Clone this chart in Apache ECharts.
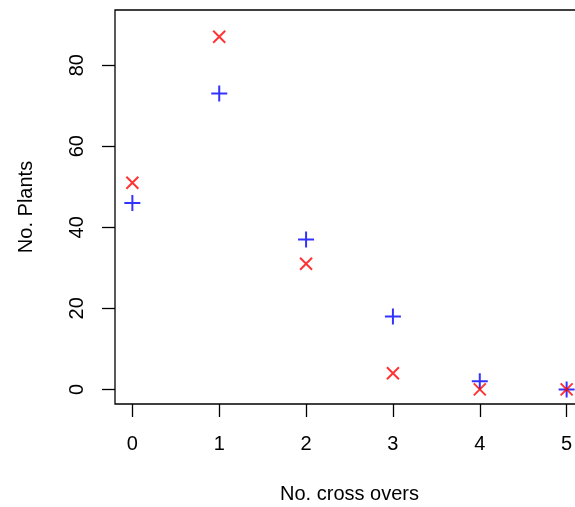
<!DOCTYPE html>
<html>
<head>
<meta charset="utf-8">
<script src="https://cdn.jsdelivr.net/npm/echarts@6/dist/echarts.min.js"></script>
<style>
  html, body { margin: 0; padding: 0; background: #ffffff; overflow: hidden; }
  /* plot box runs past the right edge of the window, as in the original */
  #main { width: 584px; height: 507px; }
</style>
</head>
<body>
<div id="main"></div>
<script>
// counts per number of cross overs
var crossOvers = [0, 1, 2, 3, 4, 5];
var plantsBlue = [46, 73, 37, 18, 2, 0];
var plantsRed = [51, 87, 31, 4, 0, 0];
var xTicks = [0, 1, 2, 3, 4, 5];
var yTicks = [0, 20, 40, 60, 80];

var plusPath = 'path://M0,5L10,5M5,0L5,10';
var crossPath = 'path://M0,0L10,10M10,0L0,10';

function pairs(xs, ys) {
    return xs.map(function (x, i) { return [x, ys[i]]; });
}

var font = 'Liberation Sans, Arial, sans-serif';

var myChart = echarts.init(document.getElementById('main'));
myChart.setOption({
    animation: false,
    backgroundColor: '#ffffff',
    grid: {
        left: 115,
        top: 10,
        right: 0,
        bottom: 103,
        outerBoundsMode: 'none',
        show: true,
        borderColor: '#000000',
        borderWidth: 1.3,
        backgroundColor: 'transparent'
    },
    xAxis: {
        type: 'value',
        min: -0.2,
        max: 5.2,
        name: 'No. cross overs',
        nameLocation: 'middle',
        nameGap: 80,
        nameMoveOverlap: false,
        nameTextStyle: { color: '#000', fontSize: 20, fontFamily: font },
        splitLine: { show: false },
        axisLine: { show: false, onZero: false },
        axisTick: { show: true, length: 13, customValues: xTicks,
            lineStyle: { color: '#000', width: 1.3 } },
        axisLabel: { customValues: xTicks, color: '#000', fontSize: 20,
            fontFamily: font, margin: 30 }
    },
    yAxis: {
        type: 'value',
        min: -3.6,
        max: 93.6,
        name: 'No. Plants',
        nameLocation: 'middle',
        nameRotate: 90,
        nameGap: 79,
        nameMoveOverlap: false,
        nameTextStyle: { color: '#000', fontSize: 20, fontFamily: font },
        splitLine: { show: false },
        axisLine: { show: false, onZero: false },
        axisTick: { show: true, length: 13, customValues: yTicks,
            lineStyle: { color: '#000', width: 1.3 } },
        axisLabel: { customValues: yTicks, color: '#000', fontSize: 20,
            fontFamily: font, rotate: 90, margin: 28 }
    },
    series: [
        {
            type: 'scatter',
            data: pairs(crossOvers, plantsBlue),
            symbol: plusPath,
            symbolSize: 16,
            itemStyle: { color: 'none', borderColor: '#0000ff', borderWidth: 2 }
        },
        {
            type: 'scatter',
            data: pairs(crossOvers, plantsRed),
            symbol: crossPath,
            symbolSize: 12,
            itemStyle: { color: 'none', borderColor: '#ff0000', borderWidth: 2 }
        }
    ]
});
</script>
</body>
</html>
